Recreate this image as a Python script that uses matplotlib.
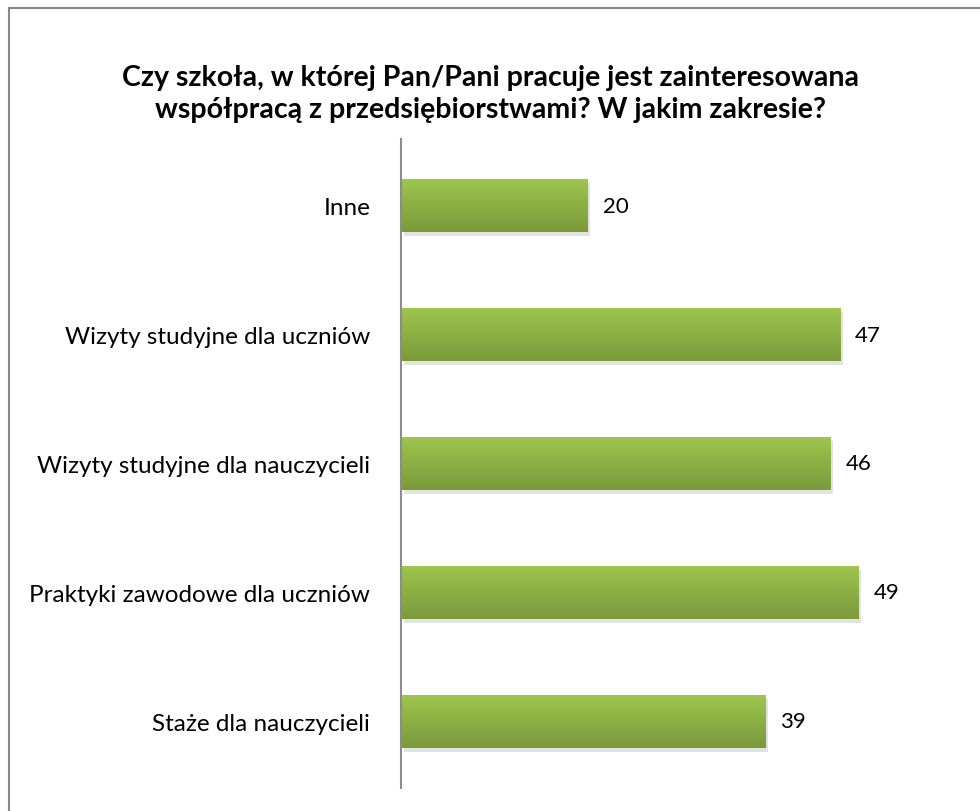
import numpy as np
import matplotlib
matplotlib.use("Agg")
import matplotlib.pyplot as plt
from matplotlib.colors import LinearSegmentedColormap
from matplotlib.patches import Rectangle

plt.rcParams['font.family'] = ['Lato', 'DejaVu Sans']

# Data (top to bottom as shown in the chart)
categories = [
    "Inne",
    "Wizyty studyjne dla uczniów",
    "Wizyty studyjne dla nauczycieli",
    "Praktyki zawodowe dla uczniów",
    "Staże dla nauczycieli",
]
values = [20, 47, 46, 49, 39]

title = ("Czy szkoła, w której Pan/Pani pracuje jest zainteresowana\n"
         "współpracą z przedsiębiorstwami? W jakim zakresie?")

fig = plt.figure(figsize=(9.8, 8.12), dpi=100)
ax = fig.add_axes([0.409, 0.028, 0.553, 0.800])

# green vertical gradient for the bars
green = LinearSegmentedColormap.from_list("green", ["#7b9a3b", "#8caf45", "#9dc64d"])
grad = np.linspace(0, 1, 64).reshape(-1, 1)
bar_h = 0.41

for i, v in enumerate(values):
    # soft shadow below/right of each bar (y axis is inverted)
    ax.add_patch(Rectangle((0.3, i - bar_h / 2 + 0.03), v, bar_h,
                           facecolor="#e2e2e2", edgecolor="none", zorder=1))
    ax.imshow(grad, cmap=green, aspect="auto", origin="lower",
              extent=[0, v, i + bar_h / 2, i - bar_h / 2], zorder=2)
    ax.text(v + 1.6, i, str(v), va="center", ha="left", fontsize=16, color="black")

ax.set_xlim(0, 58)
ax.set_ylim(len(values) - 0.48, -0.52)
ax.set_yticks(range(len(categories)))
ax.set_yticklabels(categories, fontsize=17.5)
ax.tick_params(axis="y", length=0, pad=22)
ax.set_xticks([])
for side in ["top", "right", "bottom"]:
    ax.spines[side].set_visible(False)
ax.spines["left"].set_color("#8c8c8c")
ax.spines["left"].set_linewidth(1.5)
ax.spines["left"].set_zorder(3)

fig.text(0.5, 0.884, title, ha="center", va="center", fontsize=20.5,
         fontweight="bold", linespacing=1.3)

# outer chart border (right and bottom edges fall outside the image)
fig.add_artist(Rectangle((9 / 980, -0.01), 1.0, 1 - 9 / 812 + 0.01,
                         transform=fig.transFigure, fill=False,
                         edgecolor="#878787", linewidth=1.5))

fig.savefig("out.png", dpi=100)
